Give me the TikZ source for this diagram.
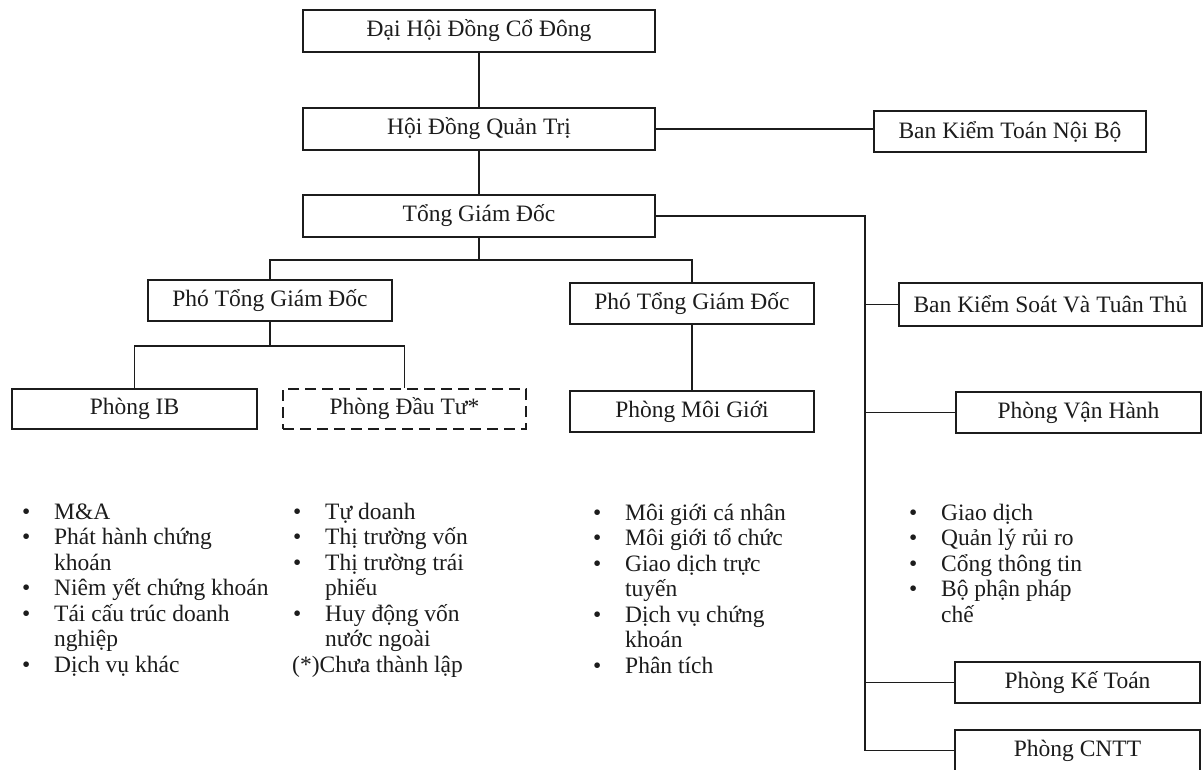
\documentclass[tikz,border=0pt]{standalone}
\usepackage{fontspec}
\setmainfont{Liberation Serif}
\definecolor{ink}{RGB}{28,28,28}
\newcommand\lbul[1]{\hbox{\makebox[32pt][l]{•}#1}}
\newcommand\lcont[1]{\hbox{\kern32pt #1}}
\newcommand\lsetup{\baselineskip=25.5pt\lineskiplimit=-100pt\lineskip=0pt}
\begin{document}
\begin{tikzpicture}[x=1pt,y=-1pt,
  every node/.style={font=\fontsize{23.5pt}{25.5pt}\selectfont, text=ink},
  box/.style={draw=ink, line width=1.7pt, rectangle, inner sep=0pt, minimum height=41pt},
  dbox/.style={box, dash pattern=on 11pt off 6pt},
  conn/.style={draw=ink, line width=1.6pt},
  blist/.style={inner sep=0pt, anchor=base west}]
\useasboundingbox (0,0) rectangle (1204,769);
\clip (0,0) rectangle (1204,769);
\fill[white] (0,0) rectangle (1204,769);

% boxes
\node[box, minimum width=352pt, minimum height=42pt] (dh) at (479,31) {Đại Hội Đồng Cổ Đông};
\node[box, minimum width=352pt, minimum height=42pt] (hdqt) at (479,129) {Hội Đồng Quản Trị};
\node[box, minimum width=352pt, minimum height=42pt] (tgd) at (479,216) {Tổng Giám Đốc};
\node[box, minimum width=272pt] (bktnb) at (1010,131.5) {Ban Kiểm Toán Nội Bộ};
\node[box, minimum width=303pt, minimum height=43pt] (bkstt) at (1050.5,304.5) {Ban Kiểm Soát Và Tuân Thủ};
\node[box, minimum width=244pt] (ptgd1) at (270,300.5) {Phó Tổng Giám Đốc};
\node[box, minimum width=244pt] (ptgd2) at (692,303.5) {Phó Tổng Giám Đốc};
\node[box, minimum width=245pt, minimum height=40pt] (ib) at (134.5,409) {Phòng IB};
\node[dbox, minimum width=243pt, minimum height=40pt] (dt) at (404.5,409) {Phòng Đầu Tư*};
\node[box, minimum width=244pt] (mg) at (692,411.5) {Phòng Môi Giới};
\node[box, minimum width=245pt] (pvh) at (1078.5,412.5) {Phòng Vận Hành};
\node[box, minimum width=245pt] (pkt) at (1077.5,682.5) {Phòng Kế Toán};
\node[box, minimum width=245pt] (cntt) at (1077.5,750.5) {Phòng CNTT};

% helper coordinates
\coordinate (b1) at (479,260);
\coordinate (b2) at (270,346);
\coordinate (rv) at (865,216);

% connectors
\draw[conn] (dh) -- (hdqt);
\draw[conn] (hdqt) -- (tgd);
\draw[conn] (hdqt.east) -- (hdqt.east -| bktnb.west);
\draw[conn] (tgd.south) -- (b1);
\draw[conn] (b1) -| (ptgd1.north);
\draw[conn] (b1) -| (ptgd2.north);
\draw[conn] (ptgd1.south) -- (b2);
\draw[conn] (b2) -| (ib.north);
\draw[conn] (b2) -| (dt.north);
\draw[conn] (ptgd2) -- (mg);
\draw[conn] (tgd.east) -- (rv) -- (rv |- cntt.west) -- (cntt.west);
\draw[conn] (rv |- bkstt.west) -- (bkstt.west);
\draw[conn] (rv |- pvh.west) -- (pvh.west);
\draw[conn] (rv |- pkt.west) -- (pkt.west);

% lists
\node[blist] (lib) at (22,519) {\vtop{\lsetup
  \lbul{M\&A}
  \lbul{Phát hành chứng}
  \lcont{khoán}
  \lbul{Niêm yết chứng khoán}
  \lbul{Tái cấu trúc doanh}
  \lcont{nghiệp}
  \lbul{Dịch vụ khác}}};
\node[blist] (ldt) at (293,519) {\vtop{\lsetup
  \lbul{Tự doanh}
  \lbul{Thị trường vốn}
  \lbul{Thị trường trái}
  \lcont{phiếu}
  \lbul{Huy động vốn}
  \lcont{nước ngoài}
  \hbox{\kern-1pt(*)Chưa thành lập}}};
\node[blist] (lmg) at (593,520) {\vtop{\lsetup
  \lbul{Môi giới cá nhân}
  \lbul{Môi giới tổ chức}
  \lbul{Giao dịch trực}
  \lcont{tuyến}
  \lbul{Dịch vụ chứng}
  \lcont{khoán}
  \lbul{Phân tích}}};
\node[blist] (lvh) at (909,520) {\vtop{\lsetup
  \lbul{Giao dịch}
  \lbul{Quản lý rủi ro}
  \lbul{Cổng thông tin}
  \lbul{Bộ phận pháp}
  \lcont{chế}}};
\end{tikzpicture}
\end{document}
